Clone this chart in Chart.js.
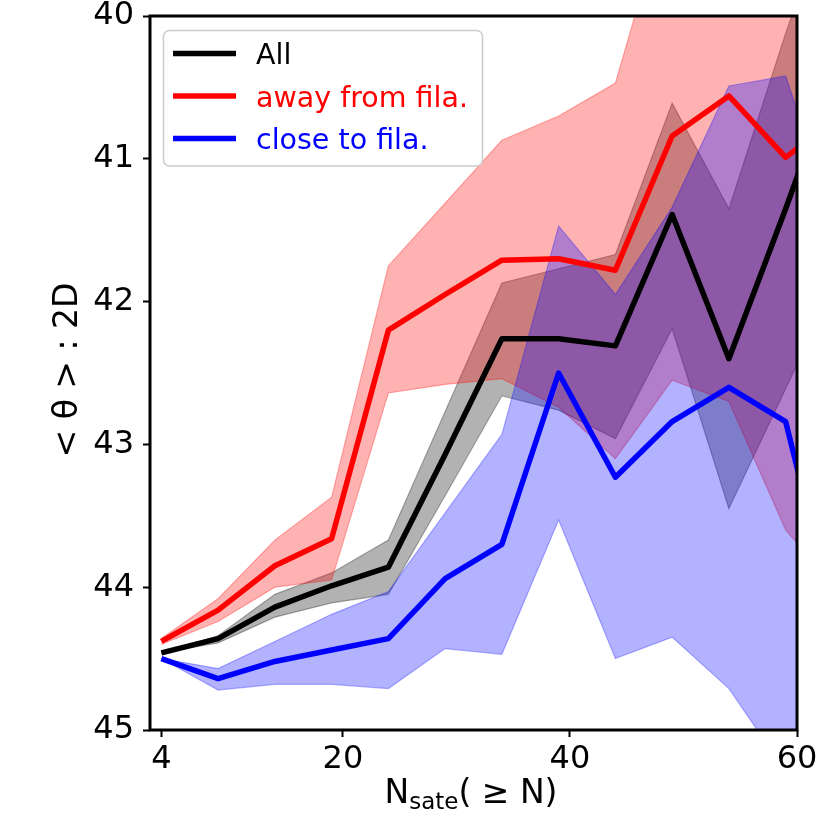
<!DOCTYPE html>
<html>
<head>
<meta charset="utf-8">
<script src="https://cdn.jsdelivr.net/npm/chart.js@4.4.0/dist/chart.umd.min.js"></script>
<style>
  html, body { margin: 0; padding: 0; background: #fff; }
  #wrap { width: 830px; height: 830px; }
</style>
</head>
<body>
<div id="wrap"><canvas id="chart" width="830" height="830"></canvas></div>
<script>
// x: minimum number of satellites
var nSate = [4, 9, 14, 19, 24, 29, 34, 39, 44, 49, 54, 59, 64];

// All
var allMean  = [44.46, 44.36, 44.14, 43.99, 43.86, 43.07, 42.26, 42.26, 42.31, 41.39, 42.40, 41.35, 40.25];
var allUpper = [44.46, 44.34, 44.05, 43.90, 43.67, 42.77, 41.87, 41.77, 41.67, 40.61, 41.35, 40.12, 39.00];
var allLower = [44.46, 44.39, 44.21, 44.11, 44.05, 43.36, 42.66, 42.76, 42.96, 42.19, 43.45, 42.61, 41.77];

// away from filaments
var awayMean  = [44.38, 44.16, 43.85, 43.66, 42.20, 41.95, 41.71, 41.70, 41.78, 40.84, 40.56, 40.99, 40.69];
var awayUpper = [44.36, 44.08, 43.67, 43.37, 41.75, 41.31, 40.87, 40.70, 40.47, 39.10, 39.00, 39.00, 39.00];
var awayLower = [44.40, 44.24, 44.00, 43.95, 42.64, 42.58, 42.54, 42.74, 43.10, 42.55, 42.70, 43.60, 44.05];

// close to filaments
var closeMean  = [44.50, 44.64, 44.52, 44.44, 44.36, 43.94, 43.70, 42.50, 43.23, 42.84, 42.60, 42.84, 44.44];
var closeUpper = [44.50, 44.57, 44.38, 44.19, 44.03, 43.48, 42.93, 41.47, 41.95, 41.34, 40.49, 40.42, 41.62];
var closeLower = [44.50, 44.72, 44.68, 44.68, 44.71, 44.43, 44.47, 43.53, 44.50, 44.35, 44.71, 45.29, 45.80];

var xTicks = [4, 20, 40, 60];
var yTicks = [40, 41, 42, 43, 44, 45];
var seriesNames = ["All", "away from fila.", "close to fila."];
var seriesColors = ["#000000", "#ff0000", "#0000ff"];

var FONT = "'DejaVu Sans', sans-serif";

function pts(ys) {
    return nSate.map(function (x, i) { return {x: x, y: ys[i]}; });
}

function band(ys, rgb, fill, order) {
    return {
        data: pts(ys),
        borderColor: "rgba(" + rgb + ",0.3)",
        backgroundColor: "rgba(" + rgb + ",0.3)",
        borderWidth: 1.2,
        pointRadius: 0,
        tension: 0,
        fill: fill,
        order: order,
        clip: 0
    };
}

function meanLine(ys, color) {
    return {
        data: pts(ys),
        borderColor: color,
        borderWidth: 5.5,
        borderJoinStyle: "round",
        pointRadius: 0,
        tension: 0,
        fill: false,
        order: 1,
        clip: 0
    };
}

// spines, axis labels and the legend box
var decorations = {
    id: "decorations",
    afterDraw: function (chart) {
        var ctx = chart.ctx;
        var a = chart.chartArea;
        ctx.save();

        ctx.strokeStyle = "#000";
        ctx.lineWidth = 3;
        ctx.strokeRect(a.left, a.top, a.right - a.left, a.bottom - a.top);

        // x label: N_sate( >= N)
        ctx.fillStyle = "#000";
        ctx.textBaseline = "alphabetic";
        ctx.textAlign = "left";
        ctx.font = "33px " + FONT;
        var wN = ctx.measureText("N").width;
        var wRest = ctx.measureText("( \u2265 N)").width;
        ctx.font = "23px " + FONT;
        var wSub = ctx.measureText("sate").width;
        var total = wN + wSub + wRest;
        var x0 = 471 - total / 2;
        var base = 803;
        ctx.font = "33px " + FONT;
        ctx.fillText("N", x0, base);
        ctx.font = "23px " + FONT;
        ctx.fillText("sate", x0 + wN, base + 6);
        ctx.font = "33px " + FONT;
        ctx.fillText("( \u2265 N)", x0 + wN + wSub, base);

        // y label
        ctx.save();
        ctx.translate(77, 370);
        ctx.rotate(-Math.PI / 2);
        ctx.textAlign = "center";
        ctx.font = "33px " + FONT;
        ctx.fillText("< \u03b8 > : 2D", 0, 0);
        ctx.restore();

        // legend
        var bx = 163.5, by = 30.5, bw = 319, bh = 135.5, r = 6;
        ctx.beginPath();
        ctx.moveTo(bx + r, by);
        ctx.arcTo(bx + bw, by, bx + bw, by + bh, r);
        ctx.arcTo(bx + bw, by + bh, bx, by + bh, r);
        ctx.arcTo(bx, by + bh, bx, by, r);
        ctx.arcTo(bx, by, bx + bw, by, r);
        ctx.closePath();
        ctx.fillStyle = "rgba(255,255,255,0.8)";
        ctx.fill();
        ctx.strokeStyle = "#cccccc";
        ctx.lineWidth = 1.5;
        ctx.stroke();

        ctx.font = "28.5px " + FONT;
        ctx.textAlign = "left";
        for (var i = 0; i < seriesNames.length; i++) {
            var yBase = 64.3 + i * 42.5;
            var yMid = 53.5 + i * 42.5;
            ctx.strokeStyle = seriesColors[i];
            ctx.lineWidth = 5.5;
            ctx.beginPath();
            ctx.moveTo(173, yMid);
            ctx.lineTo(236, yMid);
            ctx.stroke();
            ctx.fillStyle = seriesColors[i];
            ctx.fillText(seriesNames[i], 256, yBase);
        }
        ctx.restore();
    }
};

var tickFont = {family: FONT, size: 32, lineHeight: 1};

new Chart(document.getElementById("chart"), {
    type: "line",
    data: {
        datasets: [
            band(allUpper, "0,0,0", "+1", 6),
            band(allLower, "0,0,0", false, 6),
            band(awayUpper, "255,0,0", "+1", 5),
            band(awayLower, "255,0,0", false, 5),
            band(closeUpper, "0,0,255", "+1", 4),
            band(closeLower, "0,0,255", false, 4),
            meanLine(allMean, seriesColors[0]),
            meanLine(awayMean, seriesColors[1]),
            meanLine(closeMean, seriesColors[2])
        ]
    },
    options: {
        responsive: false,
        animation: false,
        devicePixelRatio: 1,
        layout: {padding: {left: 0, right: 33, top: 16, bottom: 0}},
        plugins: {
            legend: {display: false},
            tooltip: {enabled: false},
            filler: {propagate: false}
        },
        scales: {
            x: {
                type: "linear",
                min: 3,
                max: 60,
                afterBuildTicks: function (s) {
                    s.ticks = xTicks.map(function (v) { return {value: v}; });
                },
                afterFit: function (s) {
                    s.height = 100;
                    s.paddingLeft = 0;
                    s.paddingRight = 0;
                },
                grid: {drawOnChartArea: false, tickLength: 7, tickWidth: 2, tickColor: "#000"},
                border: {display: false},
                ticks: {font: tickFont, color: "#000", padding: 7, maxRotation: 0, autoSkip: false}
            },
            y: {
                min: 40,
                max: 45,
                reverse: true,
                afterBuildTicks: function (s) {
                    s.ticks = yTicks.map(function (v) { return {value: v}; });
                },
                afterFit: function (s) {
                    s.width = 150;
                    s.paddingTop = 0;
                    s.paddingBottom = 0;
                },
                grid: {drawOnChartArea: false, tickLength: 7, tickWidth: 2, tickColor: "#000"},
                border: {display: false},
                ticks: {font: tickFont, color: "#000", padding: 9, autoSkip: false}
            }
        }
    },
    plugins: [decorations]
});
</script>
</body>
</html>
